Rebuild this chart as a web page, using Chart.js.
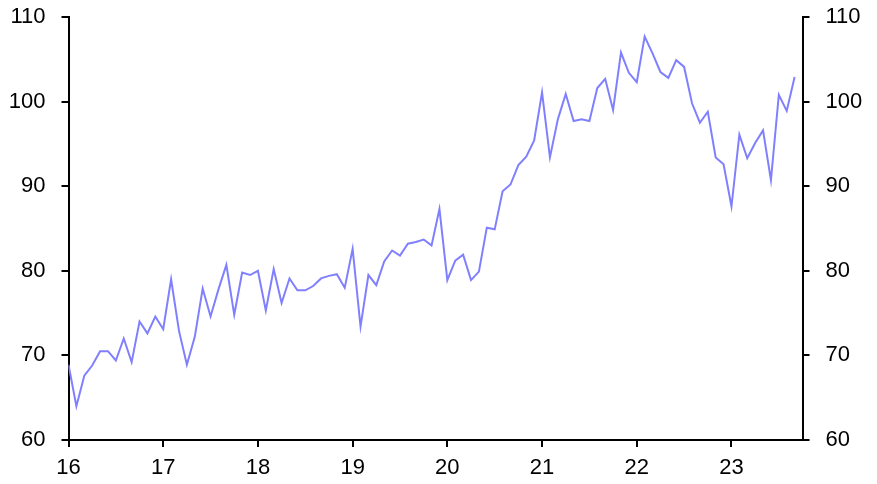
<!DOCTYPE html>
<html><head><meta charset="utf-8">
<script src="https://cdn.jsdelivr.net/npm/chart.js@4/dist/chart.umd.min.js"></script>
<style>html,body{margin:0;padding:0;background:#fff}#wrap{width:877px;height:484px;position:relative}</style>
</head><body><div id="wrap"><canvas id="c" width="877" height="484"></canvas></div>
<script>
// Monthly values, Jan of each year onward
const v2016 = [68.9, 64.0, 67.6, 68.8, 70.5, 70.5, 69.4, 72.0, 69.2, 74.0, 72.6, 74.6];
const v2017 = [73.1, 79.0, 72.9, 68.9, 72.2, 77.9, 74.6, 77.8, 80.7, 74.8, 79.8, 79.5];
const v2018 = [80.0, 75.3, 80.2, 76.2, 79.1, 77.7, 77.7, 78.2, 79.1, 79.4, 79.6, 78.0];
const v2019 = [82.6, 73.4, 79.5, 78.3, 81.1, 82.4, 81.8, 83.2, 83.4, 83.7, 83.0, 87.3];
const v2020 = [78.9, 81.2, 81.9, 78.9, 79.9, 85.1, 84.9, 89.4, 90.2, 92.5, 93.5, 95.4];
const v2021 = [101.1, 93.4, 97.9, 100.9, 97.7, 97.9, 97.7, 101.6, 102.7, 99.0, 105.8, 103.4];
const v2022 = [102.3, 107.7, 105.7, 103.5, 102.8, 104.9, 104.1, 99.8, 97.5, 98.8, 93.4, 92.6];
const v2023 = [87.6, 96.1, 93.3, 95.1, 96.6, 90.7, 100.8, 98.9, 102.9];
const yearLabels = ['16', '17', '18', '19', '20', '21', '22', '23'];
const yTicks = [60, 70, 80, 90, 100, 110];

const series = [].concat(v2016, v2017, v2018, v2019, v2020, v2021, v2022, v2023);
const points = series.map((v, i) => ({ x: i, y: v }));

const font = { family: '"Liberation Sans", Arial, sans-serif', size: 22 };
const axisGrid = { drawOnChartArea: false, drawTicks: true, tickLength: 7, color: '#000', lineWidth: 2 };
const axisBorder = { display: true, color: '#000', width: 2 };

function yAxis(pos, w) {
  return {
    type: 'linear', position: pos, min: 60, max: 110,
    afterBuildTicks: s => { s.ticks = yTicks.map(v => ({ value: v })); },
    ticks: { font, color: '#000', padding: 16 },
    grid: axisGrid, border: axisBorder,
    afterFit: s => { s.width = w; s.paddingTop = 0; s.paddingBottom = 0; }
  };
}

new Chart(document.getElementById('c'), {
  type: 'line',
  data: { datasets: [{ data: points, borderColor: '#8080ff', borderWidth: 2, pointRadius: 0, tension: 0, fill: false }] },
  options: {
    responsive: false, animation: false, devicePixelRatio: 1,
    layout: { padding: { top: 17, left: 0, right: 0, bottom: 0 } },
    plugins: { legend: { display: false }, tooltip: { enabled: false } },
    scales: {
      x: {
        type: 'linear', min: 0, max: 93,
        afterBuildTicks: s => { s.ticks = yearLabels.map((_, i) => ({ value: i * 12 })); },
        ticks: { font, color: '#000', padding: 8, maxRotation: 0, autoSkip: false,
          callback: v => yearLabels[Math.round(v / 12)] },
        grid: axisGrid, border: axisBorder,
        afterFit: s => { s.height = 44; s.paddingLeft = 0; s.paddingRight = 0; }
      },
      y: yAxis('left', 68.5),
      y2: yAxis('right', 74.5)
    }
  }
});
</script></body></html>
